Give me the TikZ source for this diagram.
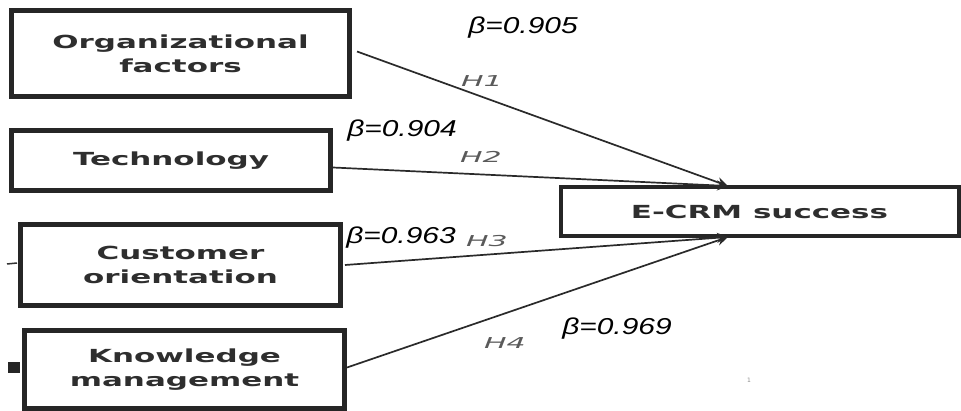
\documentclass[tikz,border=0pt]{standalone}
\usepackage{fontspec}
\usepackage{graphicx}
\setmainfont{DejaVu Sans}
\newfontfamily\boxfont{DejaVu Sans}
\newfontfamily\betafont{Liberation Sans}
\usetikzlibrary{arrows.meta}
\definecolor{boxtext}{HTML}{2E2E2E}
\definecolor{hgray}{HTML}{5A5A5A}
\definecolor{linegray}{HTML}{2A2A2A}
\newcommand{\bxt}[1]{\scalebox{1.72}[1]{#1}}
\newcommand{\btlabel}[1]{\scalebox{1.3}[1]{\betafont\itshape\fontsize{23}{26}\selectfont β=#1}}
\newcommand{\hlabel}[1]{\scalebox{2}[1]{\boxfont\itshape\fontsize{15}{18}\selectfont #1}}
\tikzset{
  factorbox/.style={draw=black!85, line width=5pt, fill=white, inner sep=0pt,
    align=center, text=boxtext, font=\boxfont\bfseries\fontsize{18}{24}\selectfont},
  outbox/.style={draw=black!85, line width=4pt, fill=white, inner sep=0pt,
    align=center, text=boxtext, font=\boxfont\bfseries\fontsize{18}{24}\selectfont},
  path/.style={draw=linegray, line width=1.7pt, -{Stealth[length=11pt,width=10pt]}},
  betalbl/.style={inner sep=0pt, text=black},
  hlbl/.style={inner sep=0pt, text=hgray}
}
\begin{document}
\begin{tikzpicture}[x=1pt,y=-1pt]
\useasboundingbox[fill=white] (0,0) rectangle (961,411);

% left edge marks
\draw[line width=1.5pt, black!80] (7,264) -- (17,263);
\fill[black!85] (8,362) rectangle (20,373);

% nodes
\node[factorbox, minimum width=338pt, minimum height=86pt] (org) at (180.5,53.5)
  {\bxt{Organizational}\\\bxt{factors}};
\node[factorbox, minimum width=319pt, minimum height=60pt] (tech) at (171,160.5)
  {\bxt{Technology}};
\node[factorbox, minimum width=320pt, minimum height=81pt] (cust) at (180.5,265)
  {\bxt{Customer}\\\bxt{orientation}};
\node[factorbox, minimum width=320pt, minimum height=78pt] (know) at (184.5,369.5)
  {\bxt{Knowledge}\\\bxt{management}};
\node[outbox, minimum width=398pt, minimum height=49pt] (ecrm) at (759.5,211.5)
  {\bxt{E-CRM success}};

\coordinate (topin) at (728,186);
\coordinate (botin) at (728,237);

% connectors
\draw[path] ([xshift=5pt,yshift=2pt]org.east) -- (topin);
\draw[path] ([yshift=-7pt]tech.east) -- (topin);
\draw[path] ([xshift=2pt]cust.east) -- (botin);
\draw[path] ([yshift=2pt]know.east) -- (botin);

% labels
\node[betalbl] (b1) at (523,28) {\btlabel{0.905}};
\node[betalbl] (b2) at (402,131) {\btlabel{0.904}};
\node[betalbl] (b3) at (401,238) {\btlabel{0.963}};
\node[betalbl] (b4) at (617,329) {\btlabel{0.969}};
\node[hlbl] (h1) at (482,81) {\hlabel{H1}};
\node[hlbl] (h2) at (481,157) {\hlabel{H2}};
\node[hlbl] (h3) at (487,241) {\hlabel{H3}};
\node[hlbl] (h4) at (505,343) {\hlabel{H4}};
\node[inner sep=0pt, text=black!45, font=\fontsize{6}{7}\selectfont] (pg) at (749,380) {1};
\end{tikzpicture}
\end{document}
